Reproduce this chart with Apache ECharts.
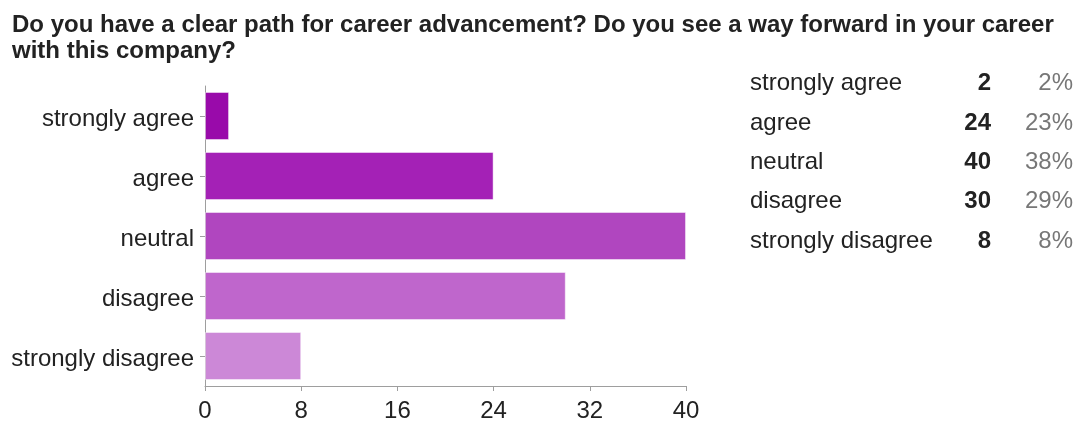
<!DOCTYPE html>
<html>
<head>
<meta charset="utf-8">
<script src="https://cdn.jsdelivr.net/npm/echarts@6/dist/echarts.min.js"></script>
<style>
  html, body { margin: 0; padding: 0; background: #fff; }
  #chart { width: 1080px; height: 421px; }
</style>
</head>
<body>
<div id="chart"></div>
<script>
// Survey answers and their response counts
var categories = ['strongly agree', 'agree', 'neutral', 'disagree', 'strongly disagree'];
var counts = [2, 24, 40, 30, 8];
var percents = ['2%', '23%', '38%', '29%', '8%'];
var barColors = ['#990aaa', '#a421b6', '#b046bf', '#bf66cc', '#cc88d7'];
var xTicks = [0, 8, 16, 24, 32, 40];

var FONT = '"Liberation Sans", Arial, sans-serif';

// Summary table on the right: answer, count (bold), share (grey)
var tableItems = [];
categories.forEach(function (name, i) {
  var y = 83.5 + i * 39.4;
  tableItems.push({
    type: 'text', x: 750, y: y,
    style: { text: name, font: '24px ' + FONT, fill: '#222', verticalAlign: 'middle' }
  });
  tableItems.push({
    type: 'text', x: 991, y: y,
    style: { text: String(counts[i]), font: 'bold 24px ' + FONT, fill: '#222',
             align: 'right', verticalAlign: 'middle' }
  });
  tableItems.push({
    type: 'text', x: 1073, y: y,
    style: { text: percents[i], font: '24px ' + FONT, fill: '#777',
             align: 'right', verticalAlign: 'middle' }
  });
});

var chart = echarts.init(document.getElementById('chart'), null, { renderer: 'canvas' });
chart.setOption({
  animation: false,
  backgroundColor: '#fff',
  title: {
    text: 'Do you have a clear path for career advancement? Do you see a way forward in your career\nwith this company?',
    left: 7, top: 7,
    textStyle: { fontFamily: FONT, fontSize: 24, fontWeight: 'bold', color: '#222', lineHeight: 26 }
  },
  grid: { left: 205, right: 394, top: 86, height: 300, containLabel: false, outerBoundsMode: 'none' },
  xAxis: {
    type: 'value',
    min: xTicks[0], max: xTicks[xTicks.length - 1], interval: 8,
    axisLine: { show: true, lineStyle: { color: '#9e9e9e', width: 1 } },
    axisTick: { show: true, length: 5, lineStyle: { color: '#9e9e9e' } },
    splitLine: { show: false },
    axisLabel: { margin: 13, fontFamily: FONT, fontSize: 24, color: '#222' }
  },
  yAxis: {
    type: 'category',
    data: categories,
    inverse: true,
    axisLine: { show: true, lineStyle: { color: '#9e9e9e', width: 1 } },
    axisTick: { show: true, length: 5, alignWithLabel: true, lineStyle: { color: '#9e9e9e' } },
    axisLabel: {
      margin: 11,
      formatter: '{a|{value}}',
      rich: { a: { fontFamily: FONT, fontSize: 24, color: '#222', lineHeight: 24, padding: [6, 0, 0, 0] } }
    }
  },
  series: [{
    type: 'bar',
    barCategoryGap: '20%',
    data: counts.map(function (v, i) {
      return {
        value: v,
        itemStyle: { color: barColors[i], borderColor: 'rgba(255,255,255,0.45)', borderWidth: 1 }
      };
    })
  }],
  graphic: tableItems
});
</script>
</body>
</html>
